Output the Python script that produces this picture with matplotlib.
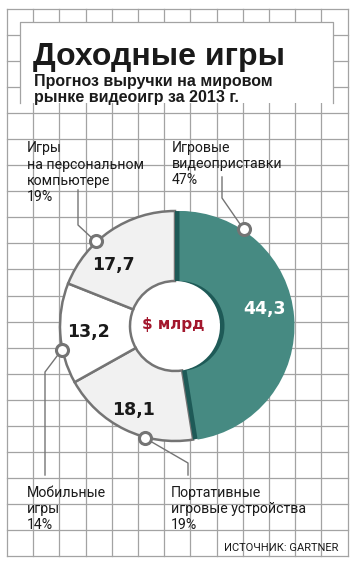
import numpy as np
import matplotlib
matplotlib.use('Agg')
import matplotlib.pyplot as plt
from matplotlib.patches import Rectangle, Circle

# данные
segments = ['Игровые видеоприставки', 'Портативные игровые устройства',
            'Мобильные игры', 'Игры на персональном компьютере']
values = [44.3, 18.1, 13.2, 17.7]
value_labels = ['44,3', '18,1', '13,2', '17,7']
shares = ['47%', '19%', '14%', '19%']
label_names = ['Игровые\nвидеоприставки', 'Портативные\nигровые устройства',
               'Мобильные\nигры', 'Игры\nна персональном\nкомпьютере']

W, H = 356, 568
GRID = '#a3a3a3'
EDGE = '#747474'
TEAL = '#468a82'
TEAL_DARK = '#1e5a57'
RED = '#a3172d'

fig = plt.figure(figsize=(W / 100, H / 100), dpi=100)
ax = fig.add_axes([0, 0, 1, 1])

# сетка на фоне
x0, x1, y0, y1 = 7, 347.5, 9, 556
for gx in np.linspace(x0, x1, 14):
    ax.plot([gx, gx], [y0, y1], color=GRID, lw=0.9, zorder=1)
for gy in np.linspace(y0, y1, 22):
    ax.plot([x0, x1], [gy, gy], color=GRID, lw=0.9, zorder=1)

# белая плашка под заголовком
ax.add_patch(Rectangle((20, 22), 313, 81, facecolor='white', edgecolor='none', zorder=2))
ax.plot([20, 20, 333, 333], [103, 22, 22, 103], color=GRID, lw=0.9, zorder=2)

# кольцевая диаграмма (ось y перевёрнута, поэтому counterclock=True)
cx, cy, R, r = 175, 326, 115, 45
ax.add_patch(Circle((cx, cy), r, facecolor='white', edgecolor='none', zorder=2.5))
colors = ['none', '#f1f1f1', 'white', '#f1f1f1']
wedges, _ = ax.pie(values, colors=colors, center=(cx, cy), radius=R, startangle=-90,
                   counterclock=True,
                   wedgeprops=dict(width=R - r, edgecolor=EDGE, linewidth=1.8))
wedges[0].set_edgecolor('none')
for w in wedges:
    w.set_zorder(3)

dark, _ = ax.pie(values, colors=[TEAL_DARK, 'none', 'none', 'none'], center=(cx, cy),
                 radius=R, startangle=-90, counterclock=True,
                 wedgeprops=dict(width=R - r, edgecolor='none'))
light, _ = ax.pie(values, colors=[TEAL, 'none', 'none', 'none'], center=(cx + 4.5, cy),
                  radius=R, startangle=-90, counterclock=True,
                  wedgeprops=dict(width=R - r, edgecolor='none'))
for w in dark:
    w.set_zorder(3.5)
for w in light:
    w.set_zorder(3.6)

ax.set_xlim(0, W)
ax.set_ylim(H, 0)
ax.set_aspect('auto')
ax.axis('off')

# значения на сегментах
value_pos = [(264, 309), (133, 410), (88, 332), (113, 265)]
for (tx, ty), lab, i in zip(value_pos, value_labels, range(4)):
    ax.text(tx, ty, lab, ha='center', va='center', fontsize=12.5, fontweight='bold',
            color='white' if i == 0 else '#1a1a1a', family='DejaVu Sans', zorder=6)
ax.text(cx - 2, cy - 1, '$ млрд', ha='center', va='center', fontsize=11, fontweight='bold',
        color=RED, family='DejaVu Sans', zorder=6)

# выноски
marker_ang = [56.4, 255, 192, 133.2]
leader_pts = [[(222, 198), (222, 177)], [(188, 463), (188, 475)],
              [(45, 372), (45, 475)], [(78, 225), (78, 190)]]
for k, ang in enumerate(marker_ang):
    a = np.radians(ang)
    mx = cx + (4.5 if k == 0 else 0) + 116 * np.cos(a)
    my = cy - 116 * np.sin(a)
    xs = [mx] + [p[0] for p in leader_pts[k]]
    ys = [my] + [p[1] for p in leader_pts[k]]
    ax.plot(xs, ys, color=EDGE, lw=1.0, zorder=4)
    ax.scatter([mx], [my], s=75, facecolor='white', edgecolor=EDGE, linewidth=2.2, zorder=5)

# подписи сегментов (y — базовая линия последней строки)
label_pos = [(172, 184), (171, 529), (27, 529), (27, 201)]
for (lx, ly), name, sh in zip(label_pos, label_names, shares):
    ax.text(lx, ly, name + '\n' + sh, ha='left', va='baseline', fontsize=10.2,
            family='Roboto', color='#1a1a1a', linespacing=1.2, zorder=6)

# заголовок
ax.text(33, 65, 'Доходные игры', ha='left', va='baseline', fontsize=23, fontweight='bold',
        family='Liberation Sans', color='#1a1a1a', zorder=6)
ax.text(34, 102, 'Прогноз выручки на мировом\nрынке видеоигр за 2013 г.', ha='left',
        va='baseline', fontsize=11.5, fontweight='bold', family='Liberation Sans',
        color='#1a1a1a', linespacing=1.12, zorder=6)

ax.text(338, 551, 'ИСТОЧНИК: GARTNER', ha='right', va='baseline', fontsize=8,
        family='Roboto', color='#1a1a1a', zorder=6)

fig.savefig('out.png', dpi=100, facecolor='white')
